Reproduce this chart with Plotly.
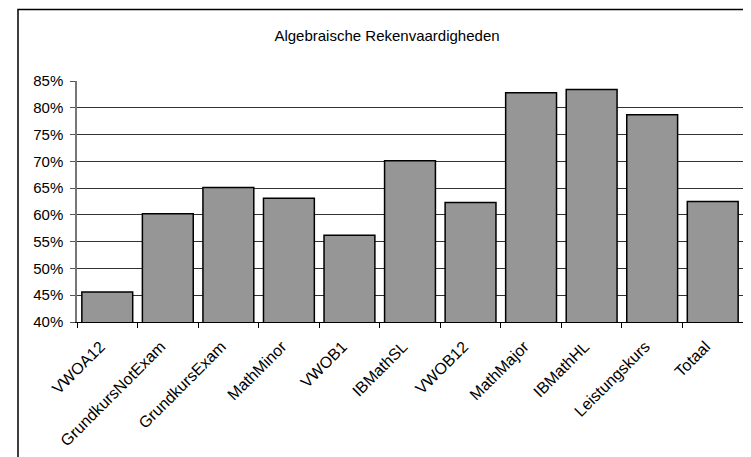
import plotly.graph_objects as go

categories = ["VWOA12", "GrundkursNotExam", "GrundkursExam", "MathMinor", "VWOB1",
              "IBMathSL", "VWOB12", "MathMajor", "IBMathHL", "Leistungskurs", "Totaal"]
values = [0.456, 0.602, 0.651, 0.631, 0.562, 0.701, 0.623, 0.828, 0.834, 0.787, 0.625]
y_ticks = [0.40, 0.45, 0.50, 0.55, 0.60, 0.65, 0.70, 0.75, 0.80, 0.85]
y_ticktext = ["40%", "45%", "50%", "55%", "60%", "65%", "70%", "75%", "80%", "85%"]
title = "Algebraische Rekenvaardigheden"

# page has an 8px body margin; work in figure coordinates
OFF = 8
W, H = 751 - OFF, 457 - OFF
L, T = 77 - OFF, 81 - OFF
R = W - (743 - OFF)
B = H - (322 - OFF)
pw, ph = W - L - R, H - T - B

def px_x(p):
    return (p - OFF - L) / pw

def px_y(p):
    return (322 - p) / ph

font = "Liberation Sans, Arial, sans-serif"

fig = go.Figure(go.Bar(
    x=categories, y=values,
    marker=dict(color="#969696", line=dict(color="#000000", width=1.5)),
    width=0.84,
))

fig.update_layout(
    width=W, height=H,
    margin=dict(l=L, r=R, t=T, b=B, autoexpand=False),
    paper_bgcolor="white", plot_bgcolor="white",
    font=dict(family=font, size=15, color="black"),
    title=dict(text=title, x=(387 - OFF) / W, xref="container", xanchor="center",
               y=1 - (35.5 - OFF) / H, yref="container", yanchor="middle",
               font=dict(family=font, size=15, color="black")),
    showlegend=False,
    xaxis=dict(
        tickangle=-45, tickson="boundaries", ticks="outside", ticklen=5,
        tickcolor="black", showline=True, linecolor="black", linewidth=1,
        tickfont=dict(family=font, size=16), showgrid=False,
        ticklabelstandoff=8, ticklabelshift=-7,
    ),
    yaxis=dict(
        range=[0.40, 0.85], tickvals=y_ticks, ticktext=y_ticktext,
        ticks="outside", ticklen=5, tickcolor="#555", showline=True,
        linecolor="#777", linewidth=1.5, showgrid=True, gridcolor="#333",
        gridwidth=1, zeroline=False, tickfont=dict(family=font, size=15),
        ticklabelstandoff=4,
    ),
    shapes=[dict(type="rect", xref="paper", yref="paper",
                 x0=px_x(18), x1=px_x(770), y0=px_y(480), y1=px_y(9.5),
                 line=dict(color="black", width=1.5), fillcolor="rgba(0,0,0,0)",
                 layer="above")],
)

fig.write_html("out.html")
